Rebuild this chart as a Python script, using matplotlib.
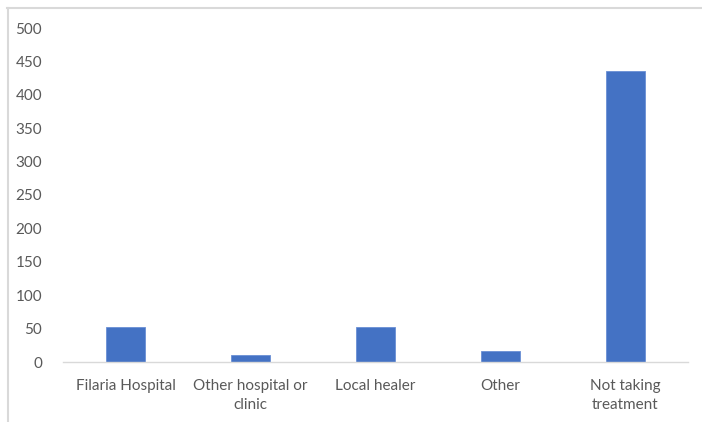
import matplotlib
matplotlib.use('Agg')
import matplotlib.pyplot as plt
from matplotlib.lines import Line2D

categories = ['Filaria Hospital', 'Other hospital or\nclinic', 'Local healer', 'Other', 'Not taking\ntreatment']
counts = [52, 10, 52, 16, 435]
yticks = [0, 50, 100, 150, 200, 250, 300, 350, 400, 450, 500]

plt.rcParams['font.family'] = ['Lato', 'DejaVu Sans']

fig = plt.figure(figsize=(7.02, 4.22), dpi=100)
ax = fig.add_axes([63/702, 1 - 362/422, 625/702, 334/422])

x = range(len(categories))
ax.bar(x, counts, width=0.31, color='#4472C4', edgecolor='#6a8fd4', linewidth=0.6)

ax.set_xlim(-0.5, len(categories) - 0.5)
ax.set_ylim(0, 500)
ax.set_yticks(yticks)
ax.set_xticks(list(x))
ax.set_xticklabels(categories, linespacing=1.45)

for side in ['top', 'right', 'left']:
    ax.spines[side].set_visible(False)
ax.spines['bottom'].set_color('#d9d9d9')
ax.spines['bottom'].set_linewidth(1.0)
ax.tick_params(axis='both', length=0, colors='#595959', labelsize=11)
ax.tick_params(axis='y', pad=15)
ax.tick_params(axis='x', pad=12)

# chart area border (top and left edges only visible)
fig.add_artist(Line2D([7/702, 1.0], [1 - 7.5/422, 1 - 7.5/422], color='#d9d9d9', lw=1.5, transform=fig.transFigure))
fig.add_artist(Line2D([7.5/702, 7.5/702], [0, 1 - 7.5/422], color='#d9d9d9', lw=1.5, transform=fig.transFigure))

fig.savefig('out.png', dpi=100)
